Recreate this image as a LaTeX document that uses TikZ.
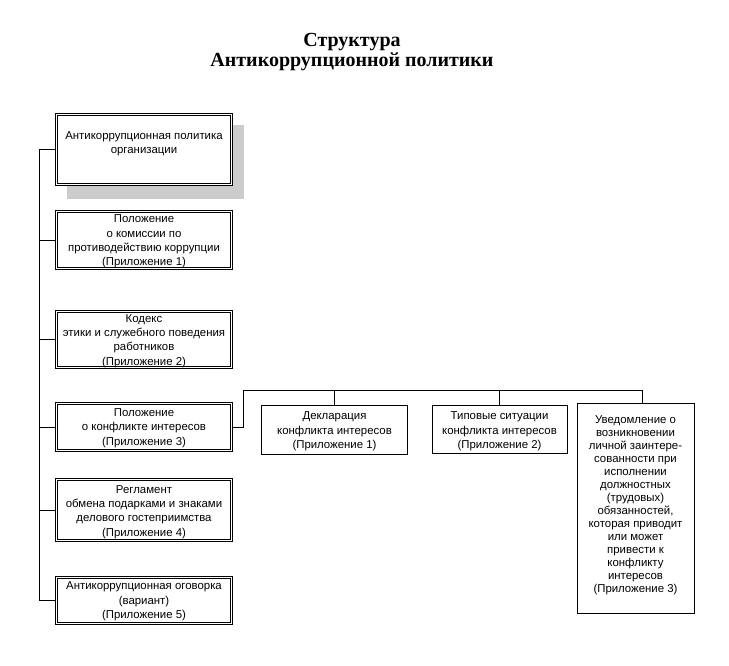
\documentclass[tikz,border=0pt]{standalone}
\usepackage{fontspec}
\setmainfont{Liberation Sans}
\newfontfamily\titlefont{Liberation Serif}
\newcommand\boxtext[3]{\node[txt] (#1t) at ([yshift=-#2pt]#1.center) {#3};}
\begin{document}
\begin{tikzpicture}[x=1pt,y=-1pt,
  txt/.style={font=\fontsize{11.4}{14.4}\selectfont, align=center, inner sep=0pt},
  dbox/.style={draw, line width=0.7pt, double, double distance=1.6pt, minimum width=175pt, fill=white},
  sbox/.style={draw, line width=0.9pt, fill=white},
  conn/.style={line width=0.9pt}]
\useasboundingbox (0,0) rectangle (729,665);
\node[font=\titlefont\bfseries\fontsize{20}{20.5}\selectfont, align=center, inner sep=0pt] (title) at (352,52) {Структура\\Антикоррупционной политики};
% shadow
\fill[black!20] (67,125) rectangle (244,199);
% left column
\node[dbox, minimum height=70pt] (b1) at (144,149.5) {};
\node[txt] (b1t) at (144,144) {Антикоррупционная политика\\организации};
\node[dbox, minimum height=57pt] (b2) at (144,240) {};
\boxtext{b2}{1.5}{Положение\\о комиссии по\\противодействию коррупции\\(Приложение 1)}
\node[dbox, minimum height=56pt] (b3) at (144,339.5) {};
\boxtext{b3}{1.5}{Кодекс\\этики и служебного поведения\\работников\\(Приложение 2)}
\node[dbox, minimum height=47pt] (b4) at (144,427) {};
\boxtext{b4}{1}{Положение\\о конфликте интересов\\(Приложение 3)}
\node[dbox, minimum height=61pt] (b5) at (144,510) {};
\boxtext{b5}{2}{Регламент\\обмена подарками и знаками\\делового гостеприимства\\(Приложение 4)}
\node[dbox, minimum height=46pt] (b6) at (144,600.5) {};
\boxtext{b6}{1}{Антикоррупционная оговорка\\(вариант)\\(Приложение 5)}
% spine
\coordinate (sp) at (39.5,0);
\draw[conn] (b1.west) -- (b1.west -| sp) |- (b6.west);
\foreach \b in {b2,b3,b4,b5} \draw[conn] (\b.west) -- (\b.west -| sp);
% right group
\node[sbox, minimum width=146pt, minimum height=49pt] (n1) at (334.5,429.5) {};
\boxtext{n1}{2}{Декларация\\конфликта интересов\\(Приложение 1)}
\node[sbox, minimum width=135pt, minimum height=48pt] (n2) at (499.5,429) {};
\boxtext{n2}{2.5}{Типовые ситуации\\конфликта интересов\\(Приложение 2)}
\node[sbox, minimum width=117pt, minimum height=210pt] (n3) at (635.5,508) {};
\node[txt, font=\fontsize{11.4}{13}\selectfont] (n3t) at (635.5,505.5) {Уведомление о\\возникновении\\личной заинтере-\\сованности при\\исполнении\\должностных\\(трудовых)\\обязанностей,\\которая приводит\\или может\\привести к\\конфликту\\интересов\\(Приложение 3)};
\coordinate (bj) at (243.5,390);
\coordinate (n3top) at ([xshift=7pt]n3.north);
\draw[conn] (b4.east) -| (bj) -- (bj -| n3top) -- (n3top);
\draw[conn] (bj -| n1.north) -- (n1.north);
\draw[conn] (bj -| n2.north) -- (n2.north);
\end{tikzpicture}
\end{document}
